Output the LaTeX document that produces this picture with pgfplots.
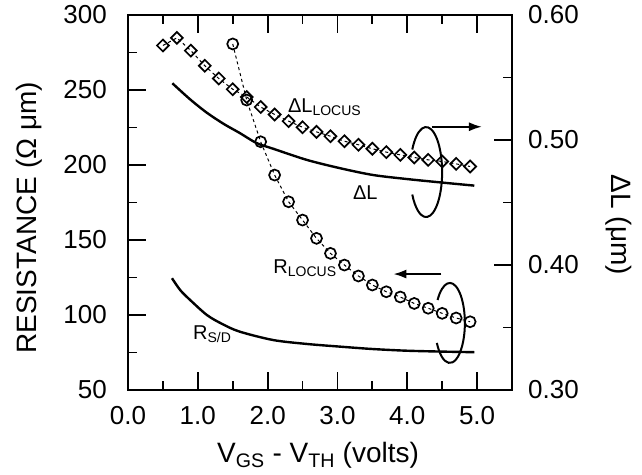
\documentclass[border=0pt]{standalone}
\usepackage{fontspec}
\setmainfont{Liberation Sans}
\usepackage{pgfplots}
\pgfplotsset{compat=1.18}
\usetikzlibrary{arrows.meta}

\pgfplotsset{
  twin/.style={
    scale only axis, width=384pt, height=375pt,
    xmin=0, xmax=5.5,
    tick align=inside,
    major tick length=18pt, minor tick length=9pt,
    every tick/.style={black, line width=1.8pt},
    axis line style={line width=2.6pt},
    /pgf/number format/assume math mode=true,
    tick label style={font=\fontsize{26}{28}\selectfont, inner sep=0pt},
    label style={font=\fontsize{28}{30}\selectfont},
  }
}

\begin{document}
\begin{tikzpicture}
\useasboundingbox (-128pt,-84pt) rectangle (514pt,390pt);

% left axis: resistance
\begin{axis}[twin,
  ymin=50, ymax=300,
  xtick={0,1,...,5}, ytick={50,100,...,300},
  minor x tick num=1, minor y tick num=1,
  ytick pos=left,
  xticklabel style={/pgf/number format/.cd, fixed, fixed zerofill, precision=1, /tikz/.cd, yshift=-16pt},
  yticklabel style={xshift=-21pt},
  xlabel={V\textsubscript{GS} - V\textsubscript{TH} (volts)},
  xlabel style={at={(axis description cs:0.495,-0.173)}, anchor=center},
  ylabel={RESISTANCE (Ω μm)},
  ylabel style={at={(axis description cs:-0.258,0.459)}, anchor=center},
]
% R locus (circles)
\addplot[black, dashed, line width=1pt, mark=o, mark size=5.5pt,
  mark options={solid, line width=1.7pt, fill=white}] coordinates {
  (1.5,280.7) (1.7,243.3) (1.9,215.5) (2.1,193.3) (2.3,175.5) (2.5,163.3)
  (2.7,151.1) (2.9,141.1) (3.1,133.3) (3.3,126.0) (3.5,120.0) (3.7,115.5)
  (3.9,112.0) (4.1,107.7) (4.3,104.5) (4.5,101.1) (4.7,98.0) (4.9,95.5)
};
% R S/D
\addplot[black, line width=2.4pt, smooth] coordinates {
  (0.63,124.5) (0.75,116.5) (0.89,110) (1.13,100) (1.35,94) (1.6,88.9)
  (2.08,83.3) (2.56,80.7) (3.04,78.9) (3.51,77.3) (3.99,76.2) (4.5,75.6) (4.96,75.2)
};

\node[anchor=west, inner sep=0pt, font=\fontsize{20}{22}\selectfont] at (axis cs:2.29,238.7) {ΔL\textsubscript{LOCUS}};
\node[anchor=west, inner sep=0pt, font=\fontsize{20}{22}\selectfont] at (axis cs:3.22,181.3) {ΔL};
\node[anchor=west, inner sep=0pt, font=\fontsize{20}{22}\selectfont] at (axis cs:2.08,131.3) {R\textsubscript{LOCUS}};
\node[anchor=west, inner sep=0pt, font=\fontsize{20}{22}\selectfont] at (axis cs:0.93,87.3) {R\textsubscript{S/D}};

\draw[-{Latex[length=13pt,width=9pt]}, line width=2pt] (axis cs:4.35,225.5) -- (axis cs:5.07,225.5);
\draw[-{Latex[length=13pt,width=9pt]}, line width=2pt] (axis cs:4.49,127.3) -- (axis cs:3.80,127.3);

\coordinate (e1) at (axis cs:4.27,195.3);
\coordinate (e2) at (axis cs:4.61,94.7);
\end{axis}

% right axis: delta L
\begin{axis}[twin,
  ymin=0.3, ymax=0.6,
  hide x axis,
  axis y line*=right,
  tick align=inside,
  ytick={0.3,0.4,0.5,0.6}, minor y tick num=1,
  yticklabel style={/pgf/number format/.cd, fixed, fixed zerofill, precision=2, /tikz/.cd, xshift=16pt},
  ylabel={ΔL (μm)},
  ylabel style={at={(axis description cs:1.279,0.44)}, anchor=center, rotate=180},
]
% delta L locus (diamonds)
\addplot[black, dashed, line width=1pt, mark=square, mark size=4.2pt,
  mark options={solid, rotate=45, line width=1.7pt, fill=white}] coordinates {
  (0.5,0.5756) (0.7,0.5817) (0.9,0.5715) (1.1,0.5594) (1.3,0.5492) (1.5,0.5406)
  (1.7,0.5344) (1.9,0.5264) (2.1,0.5204) (2.3,0.5151) (2.5,0.5102) (2.7,0.5065)
  (2.9,0.5030) (3.1,0.4990) (3.3,0.4962) (3.5,0.4930) (3.7,0.4903) (3.9,0.4881)
  (4.1,0.4860) (4.3,0.4841) (4.5,0.4828) (4.7,0.4809) (4.9,0.4788)
};
% delta L
\addplot[black, line width=2.4pt, smooth] coordinates {
  (0.635,0.5454) (0.89,0.5325) (1.13,0.5218) (1.37,0.5129) (1.60,0.5056)
  (1.84,0.4976) (2.08,0.4930) (2.56,0.4841) (3.04,0.4774) (3.51,0.4720)
  (3.99,0.4688) (4.47,0.4661) (4.96,0.4635)
};
\end{axis}

\draw[line width=2pt] (e1) ++(150:16pt and 45pt) arc[start angle=150, end angle=-150, x radius=16pt, y radius=45pt];
\draw[line width=2pt] (e2) ++(145:15pt and 40pt) arc[start angle=145, end angle=-150, x radius=15pt, y radius=40pt];
\end{tikzpicture}
\end{document}
